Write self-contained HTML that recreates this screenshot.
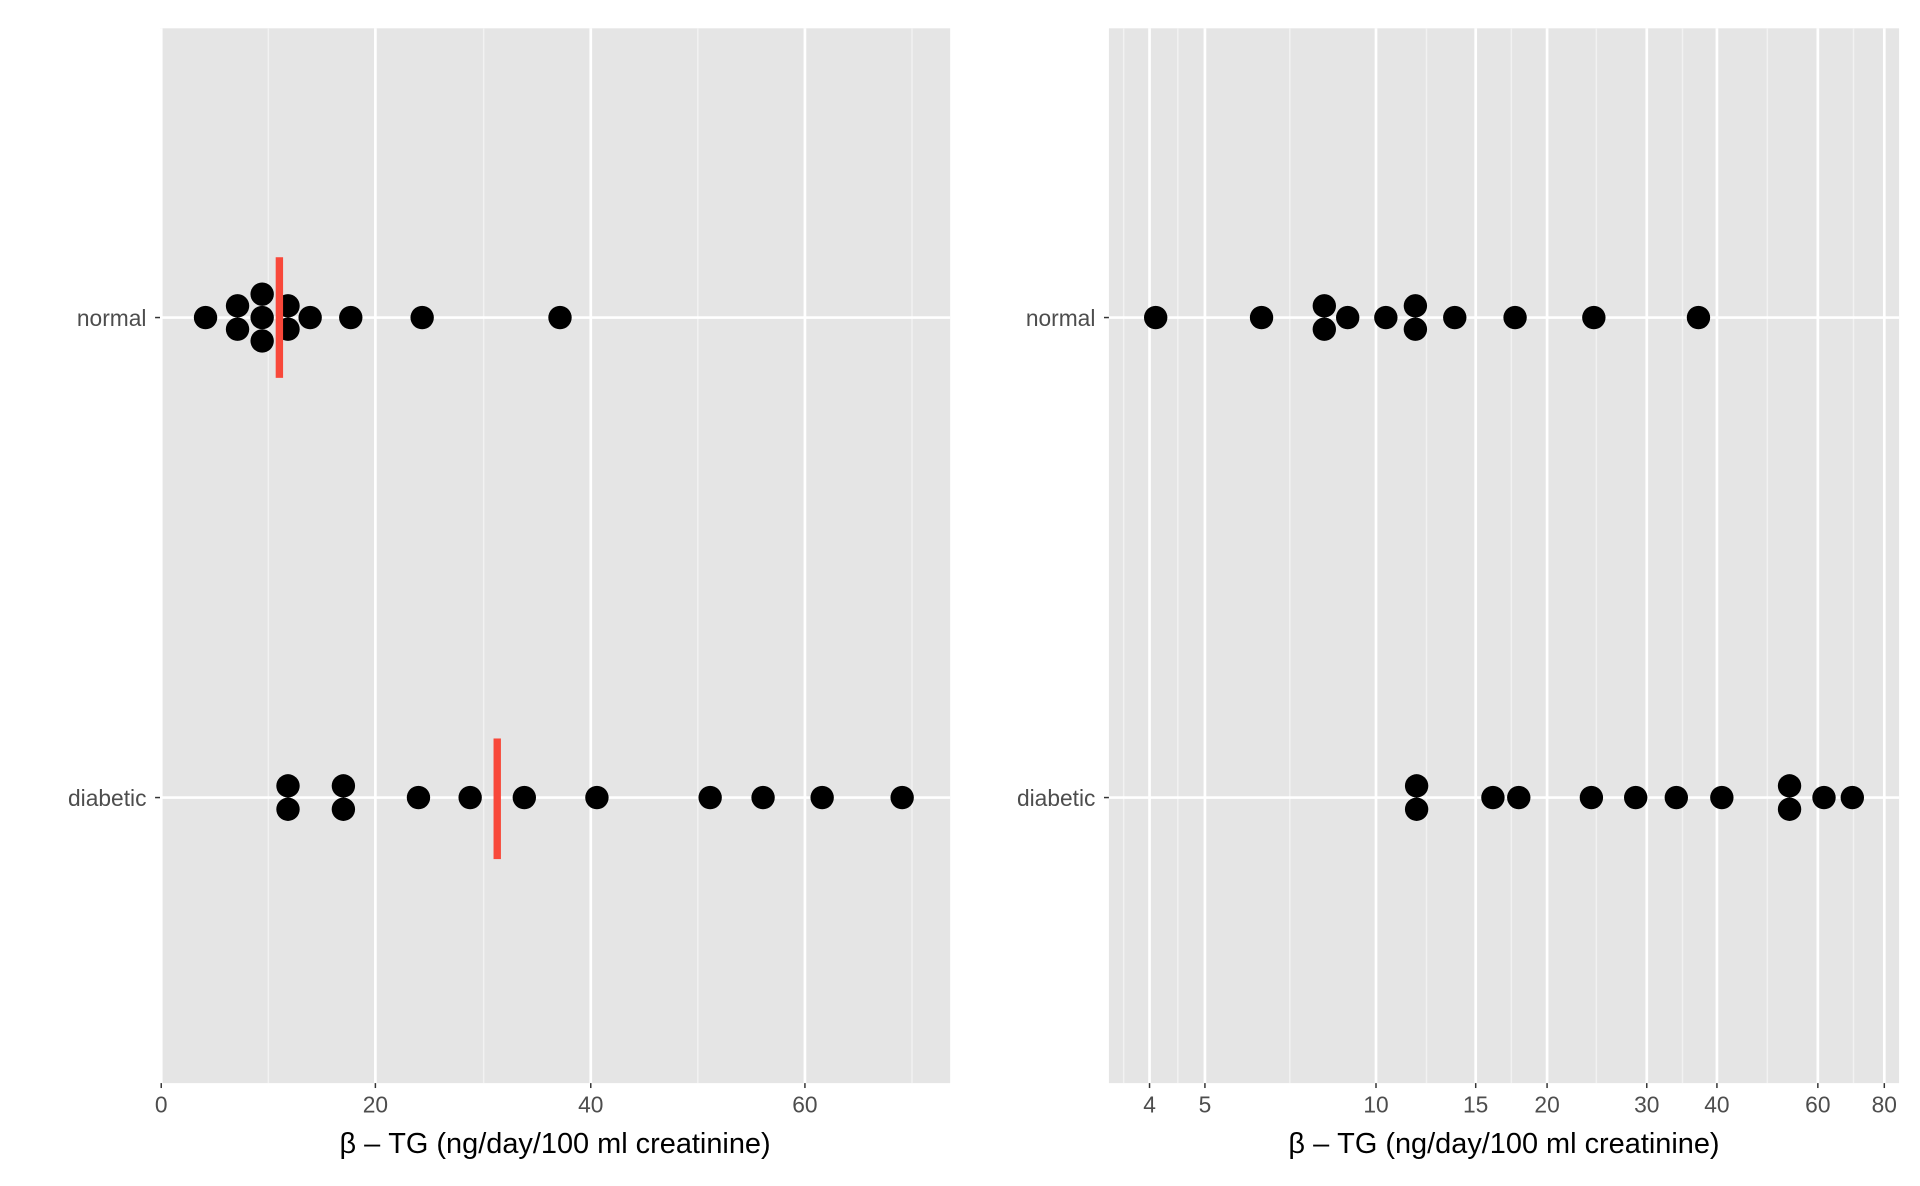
<!DOCTYPE html>
<html><head><meta charset="utf-8"><style>html,body{margin:0;padding:0;background:#fff}svg{display:block}</style></head>
<body>
<svg width="1920" height="1186" viewBox="0 0 1560 963.6" preserveAspectRatio="none" xmlns="http://www.w3.org/2000/svg" font-family="Liberation Sans, sans-serif">
<rect width="1560" height="963.6" fill="#fff"/>
<!-- Left panel -->
<rect x="130" y="23" width="642" height="857" fill="#e5e5e5"/>
<g stroke="#f2f2f2" stroke-width="1.2">
<line x1="218" y1="23" x2="218" y2="880"/><line x1="393" y1="23" x2="393" y2="880"/><line x1="567" y1="23" x2="567" y2="880"/><line x1="741" y1="23" x2="741" y2="880"/>
</g>
<g stroke="#fff" stroke-width="2.2">
<line x1="131" y1="23" x2="131" y2="880"/><line x1="305" y1="23" x2="305" y2="880"/><line x1="480" y1="23" x2="480" y2="880"/><line x1="654" y1="23" x2="654" y2="880"/>
<line x1="130" y1="258" x2="772" y2="258"/><line x1="130" y1="648" x2="772" y2="648"/>
</g>
<g fill="#000">
<circle cx="167" cy="258" r="9.5"/>
<circle cx="193" cy="248.5" r="9.5"/><circle cx="193" cy="267.5" r="9.5"/>
<circle cx="213" cy="239" r="9.5"/><circle cx="213" cy="258" r="9.5"/><circle cx="213" cy="277" r="9.5"/>
<circle cx="234" cy="248.5" r="9.5"/><circle cx="234" cy="267.5" r="9.5"/>
<circle cx="252" cy="258" r="9.5"/><circle cx="285" cy="258" r="9.5"/><circle cx="343" cy="258" r="9.5"/><circle cx="455" cy="258" r="9.5"/>
<circle cx="234" cy="638.5" r="9.5"/><circle cx="234" cy="657.5" r="9.5"/>
<circle cx="279" cy="638.5" r="9.5"/><circle cx="279" cy="657.5" r="9.5"/>
<circle cx="340" cy="648" r="9.5"/><circle cx="382" cy="648" r="9.5"/><circle cx="426" cy="648" r="9.5"/><circle cx="485" cy="648" r="9.5"/>
<circle cx="577" cy="648" r="9.5"/><circle cx="620" cy="648" r="9.5"/><circle cx="668" cy="648" r="9.5"/><circle cx="733" cy="648" r="9.5"/>
</g>
<rect x="224" y="209" width="6" height="98" fill="#f8483a"/>
<rect x="401" y="600" width="6" height="98" fill="#f8483a"/>
<g stroke="#333" stroke-width="1.2">
<line x1="131" y1="880" x2="131" y2="884"/><line x1="305" y1="880" x2="305" y2="884"/><line x1="480" y1="880" x2="480" y2="884"/><line x1="654" y1="880" x2="654" y2="884"/>
<line x1="126" y1="258" x2="130" y2="258"/><line x1="126" y1="648" x2="130" y2="648"/>
</g>
<g font-size="18.5" fill="#4d4d4d" text-anchor="middle">
<text x="131" y="904">0</text><text x="305" y="904">20</text><text x="480" y="904">40</text><text x="654" y="904">60</text>
</g>
<g font-size="18.5" fill="#4d4d4d" text-anchor="end">
<text x="119" y="265">normal</text><text x="119" y="655">diabetic</text>
</g>
<text x="451" y="937" font-size="23.5" fill="#000" text-anchor="middle">β – TG (ng/day/100 ml creatinine)</text>

<!-- Right panel -->
<rect x="901" y="23" width="642" height="857" fill="#e5e5e5"/>
<g stroke="#f2f2f2" stroke-width="1.2">
<line x1="913" y1="23" x2="913" y2="880"/><line x1="957" y1="23" x2="957" y2="880"/><line x1="1048" y1="23" x2="1048" y2="880"/><line x1="1159" y1="23" x2="1159" y2="880"/><line x1="1228" y1="23" x2="1228" y2="880"/><line x1="1297" y1="23" x2="1297" y2="880"/><line x1="1367" y1="23" x2="1367" y2="880"/><line x1="1436" y1="23" x2="1436" y2="880"/><line x1="1506" y1="23" x2="1506" y2="880"/>
</g>
<g stroke="#fff" stroke-width="2.2">
<line x1="934" y1="23" x2="934" y2="880"/><line x1="979" y1="23" x2="979" y2="880"/><line x1="1118" y1="23" x2="1118" y2="880"/><line x1="1199" y1="23" x2="1199" y2="880"/><line x1="1257" y1="23" x2="1257" y2="880"/><line x1="1338" y1="23" x2="1338" y2="880"/><line x1="1395" y1="23" x2="1395" y2="880"/><line x1="1477" y1="23" x2="1477" y2="880"/><line x1="1531" y1="23" x2="1531" y2="880"/>
<line x1="901" y1="258" x2="1543" y2="258"/><line x1="901" y1="648" x2="1543" y2="648"/>
</g>
<g fill="#000">
<circle cx="939" cy="258" r="9.5"/><circle cx="1025" cy="258" r="9.5"/>
<circle cx="1076" cy="248.5" r="9.5"/><circle cx="1076" cy="267.5" r="9.5"/>
<circle cx="1095" cy="258" r="9.5"/><circle cx="1126" cy="258" r="9.5"/>
<circle cx="1150" cy="248.5" r="9.5"/><circle cx="1150" cy="267.5" r="9.5"/>
<circle cx="1182" cy="258" r="9.5"/><circle cx="1231" cy="258" r="9.5"/><circle cx="1295" cy="258" r="9.5"/><circle cx="1380" cy="258" r="9.5"/>
<circle cx="1151" cy="638.5" r="9.5"/><circle cx="1151" cy="657.5" r="9.5"/>
<circle cx="1213" cy="648" r="9.5"/><circle cx="1234" cy="648" r="9.5"/><circle cx="1293" cy="648" r="9.5"/><circle cx="1329" cy="648" r="9.5"/><circle cx="1362" cy="648" r="9.5"/><circle cx="1399" cy="648" r="9.5"/>
<circle cx="1454" cy="638.5" r="9.5"/><circle cx="1454" cy="657.5" r="9.5"/>
<circle cx="1482" cy="648" r="9.5"/><circle cx="1505" cy="648" r="9.5"/>
</g>
<g stroke="#333" stroke-width="1.2">
<line x1="934" y1="880" x2="934" y2="884"/><line x1="979" y1="880" x2="979" y2="884"/><line x1="1118" y1="880" x2="1118" y2="884"/><line x1="1199" y1="880" x2="1199" y2="884"/><line x1="1257" y1="880" x2="1257" y2="884"/><line x1="1338" y1="880" x2="1338" y2="884"/><line x1="1395" y1="880" x2="1395" y2="884"/><line x1="1477" y1="880" x2="1477" y2="884"/><line x1="1531" y1="880" x2="1531" y2="884"/>
<line x1="897" y1="258" x2="901" y2="258"/><line x1="897" y1="648" x2="901" y2="648"/>
</g>
<g font-size="18.5" fill="#4d4d4d" text-anchor="middle">
<text x="934" y="904">4</text><text x="979" y="904">5</text><text x="1118" y="904">10</text><text x="1199" y="904">15</text><text x="1257" y="904">20</text><text x="1338" y="904">30</text><text x="1395" y="904">40</text><text x="1477" y="904">60</text><text x="1531" y="904">80</text>
</g>
<g font-size="18.5" fill="#4d4d4d" text-anchor="end">
<text x="890" y="265">normal</text><text x="890" y="655">diabetic</text>
</g>
<text x="1222" y="937" font-size="23.5" fill="#000" text-anchor="middle">β – TG (ng/day/100 ml creatinine)</text>
</svg>
</body></html>
